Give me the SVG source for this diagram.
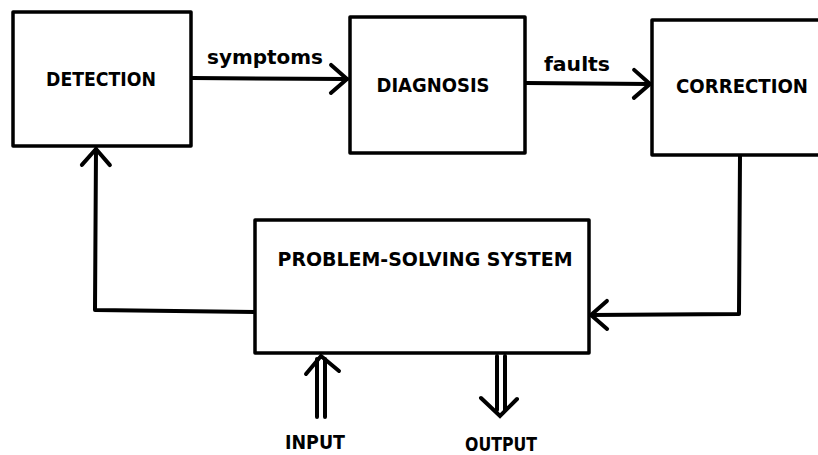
<svg xmlns="http://www.w3.org/2000/svg" width="818" height="455" viewBox="0 0 818 455">
<defs>
<style>
.box{fill:#fff;stroke:#000;stroke-width:3.5;stroke-linejoin:round}
.ln{fill:none;stroke:#000;stroke-width:4;stroke-linejoin:round;stroke-linecap:round}
.hd{fill:none;stroke:#000;stroke-width:4;stroke-linejoin:miter;stroke-linecap:round}
.t{font-family:"DejaVu Sans Condensed","DejaVu Sans",sans-serif;font-weight:bold;font-size:20px;fill:#000}
.s{font-family:"DejaVu Sans Condensed","DejaVu Sans",sans-serif;font-weight:bold;font-size:19px;fill:#000}
</style>
<marker id="chev" viewBox="-20 -17 24 34" markerWidth="24" markerHeight="34" refX="0" refY="0" orient="auto" markerUnits="userSpaceOnUse">
<path d="M -16 -14 L 0 0 L -16 14" fill="none" stroke="#000" stroke-width="4" stroke-linecap="round"/>
</marker>
</defs>
<rect width="818" height="455" fill="#fff"/>
<g id="connectors">
<path class="ln" d="M 192 78 L 347 79" marker-end="url(#chev)"/>
<path class="ln" d="M 526 83 L 650 84" marker-end="url(#chev)"/>
<path class="ln" d="M 740 156 L 739 314 L 591 315" marker-end="url(#chev)"/>
<path class="ln" d="M 255 312 L 95 310 L 96 149" marker-end="url(#chev)"/>
<g id="input-arrow">
<path class="ln" d="M 317 417 L 317 359 M 325 417 L 325 359"/>
<path class="hd" d="M 306 374 L 321 356 L 339 371"/>
</g>
<g id="output-arrow">
<path class="ln" d="M 497 356 L 497 410 M 505 356 L 505 410"/>
<path class="hd" d="M 481 398 L 500 416 L 517 399"/>
</g>
<text class="s" x="265" y="64" text-anchor="middle" textLength="116" lengthAdjust="spacingAndGlyphs">symptoms</text>
<text class="s" x="577" y="71" text-anchor="middle" textLength="66" lengthAdjust="spacingAndGlyphs">faults</text>
<text class="t" x="315" y="449" text-anchor="middle" textLength="60" lengthAdjust="spacingAndGlyphs">INPUT</text>
<text class="t" x="501" y="451" text-anchor="middle" textLength="72" lengthAdjust="spacingAndGlyphs">OUTPUT</text>
</g>
<g id="detection">
<rect class="box" x="13" y="12" width="178" height="134"/>
<text class="t" x="101" y="86" text-anchor="middle" textLength="110" lengthAdjust="spacingAndGlyphs">DETECTION</text>
</g>
<g id="diagnosis">
<rect class="box" x="350" y="17" width="175" height="136"/>
<text class="t" x="433" y="92" text-anchor="middle" textLength="113" lengthAdjust="spacingAndGlyphs">DIAGNOSIS</text>
</g>
<g id="correction">
<rect class="box" x="652" y="20" width="180" height="135"/>
<text class="t" x="742" y="93" text-anchor="middle" textLength="132" lengthAdjust="spacingAndGlyphs">CORRECTION</text>
</g>
<g id="problem-solving-system">
<rect class="box" x="255" y="220" width="334" height="133"/>
<text class="t" x="425" y="266" text-anchor="middle" textLength="295" lengthAdjust="spacingAndGlyphs">PROBLEM-SOLVING SYSTEM</text>
</g>
</svg>
